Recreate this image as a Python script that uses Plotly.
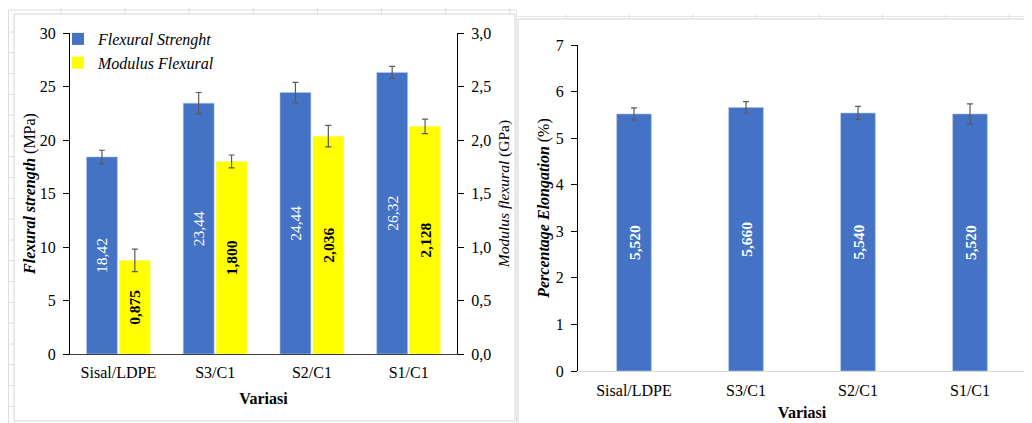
import plotly.graph_objects as go

categories = ["Sisal/LDPE", "S3/C1", "S2/C1", "S1/C1"]
flex_strength = [18.42, 23.44, 24.44, 26.32]          # MPa
flex_strength_err = [0.62, 1.0, 0.95, 0.56]
flex_modulus = [0.875, 1.800, 2.036, 2.128]            # GPa
flex_modulus_err = [0.105, 0.06, 0.10, 0.068]
elongation = [5.520, 5.660, 5.540, 5.520]              # %
elongation_err = [0.13, 0.125, 0.14, 0.215]

def fmt(v, d):
    return f"{v:.{d}f}".replace(".", ",")

FONT = "Liberation Serif"
BLUE = "#4472C4"
YELLOW = "#FFFF00"
GRIDC = "#dcdcdc"
# page body has an 8px margin: figure occupies window pixels 8..1032 x 8..423
OFF = 8
W, H = 1032 - OFF, 423 - OFF

def px_x(p):
    return (p - OFF) / W

def px_y(p):
    return 1 - (p - OFF) / H

err_style = dict(type="data", color="#5a5a5a", thickness=1.2, width=3)

fig = go.Figure()

fig.add_trace(go.Bar(
    x=categories, y=flex_strength, name="Flexural Strenght",
    marker=dict(color=BLUE, line=dict(color="#b4c7e7", width=0.6)),
    error_y=dict(array=flex_strength_err, **err_style),
    text=[fmt(v, 2) for v in flex_strength], textposition="inside",
    textangle=-90, insidetextanchor="middle", constraintext="none",
    textfont=dict(family=FONT, size=15.5, color="white"),
    offsetgroup="1", xaxis="x", yaxis="y", showlegend=False, hoverinfo="skip",
))
fig.add_trace(go.Bar(
    x=categories, y=flex_modulus, name="Modulus Flexural",
    marker=dict(color=YELLOW, line=dict(color="#f2f2a0", width=0.6)),
    error_y=dict(array=flex_modulus_err, **err_style),
    text=["<b>" + fmt(v, 3) + "</b>" for v in flex_modulus], textposition="inside",
    textangle=-90, insidetextanchor="middle", constraintext="none",
    textfont=dict(family=FONT, size=15.5, color="black"),
    offsetgroup="2", xaxis="x", yaxis="y2", showlegend=False, hoverinfo="skip",
))
# legend entries (small square markers as in the reference)
for nm, col in [("Flexural Strenght", BLUE), ("Modulus Flexural", YELLOW)]:
    fig.add_trace(go.Scatter(
        x=[None], y=[None], mode="markers", name=nm,
        marker=dict(symbol="square", size=8, color=col),
        xaxis="x", yaxis="y", showlegend=True,
    ))

fig.add_trace(go.Bar(
    x=categories, y=elongation, name="Percentage Elongation",
    marker=dict(color=BLUE, line=dict(color="#b4c7e7", width=0.6)),
    width=0.31,
    error_y=dict(array=elongation_err, **err_style),
    text=["<b>" + fmt(v, 3) + "</b>" for v in elongation], textposition="inside",
    textangle=-90, insidetextanchor="middle", constraintext="none",
    textfont=dict(family=FONT, size=15.5, color="white"),
    xaxis="x2", yaxis="y3", showlegend=False, hoverinfo="skip",
))

tickfont = dict(family=FONT, size=16, color="black")
titlefont = dict(family=FONT, size=16, color="black")

# decorative background: panel frames and faint spreadsheet cell lines
def line(x0, y0, x1, y1, color=GRIDC):
    return dict(type="line", xref="paper", yref="paper",
                x0=px_x(x0), y0=px_y(y0), x1=px_x(x1), y1=px_y(y1),
                line=dict(color=color, width=1), layer="below")

shapes = [
    dict(type="rect", xref="paper", yref="paper",
         x0=px_x(14), x1=px_x(515), y0=px_y(421), y1=px_y(14),
         line=dict(color="#d4d4d4", width=1), fillcolor="rgba(0,0,0,0)", layer="below"),
    dict(type="rect", xref="paper", yref="paper",
         x0=px_x(518), x1=px_x(1040), y0=px_y(430), y1=px_y(19),
         line=dict(color="#d4d4d4", width=1), fillcolor="rgba(0,0,0,0)", layer="below"),
    line(8.5, 10, 8.5, 423),
    line(8.5, 10, 515, 10),
    line(518, 16.5, 1032, 16.5, "#e6e6e6"),
    line(516.5, 10, 516.5, 423, "#e6e6e6"),
]
for k in range(8):
    xx = 61 + 64.1 * k
    shapes.append(line(xx, 8, xx, 14))
for k in range(8):
    xx = 566 + 63.3 * k
    shapes.append(line(xx, 14, xx, 19, "#e0e0e0"))
for k in range(19):
    yy = 32 + 20.8 * k
    shapes.append(line(8.5, yy, 14, yy))

fig.update_layout(
    width=W, height=H,
    margin=dict(l=0, r=0, t=0, b=0),
    paper_bgcolor="white", plot_bgcolor="white",
    separators=", ",
    barmode="group", bargap=0.32, bargroupgap=0.06,
    font=dict(family=FONT, color="black"),
    showlegend=True,
    legend=dict(
        x=px_x(58), y=px_y(22), xanchor="left", yanchor="top",
        bgcolor="rgba(0,0,0,0)", font=dict(family=FONT, size=16, color="black", style="italic"),
        itemsizing="constant", tracegroupgap=0,
    ),
    xaxis=dict(
        domain=[px_x(70), px_x(457)], anchor="y",
        showline=True, linecolor="#404040", linewidth=1, ticks="",
        tickfont=tickfont, showgrid=False, automargin=False, ticklabelstandoff=4,
        title=dict(text="<b>Variasi</b>", font=titlefont, standoff=12),
    ),
    yaxis=dict(
        domain=[px_y(354), px_y(33)], anchor="x",
        range=[0, 30], dtick=5, ticks="outside", ticklen=6, tickcolor="black",
        showline=True, linecolor="black", linewidth=1, showgrid=False, zeroline=False,
        tickfont=tickfont, automargin=False, ticklabelstandoff=4,
        title=dict(text="<b><i>Flexural strength</i></b> (MPa)", font=titlefont, standoff=0),
    ),
    yaxis2=dict(
        overlaying="y", side="right", anchor="x",
        range=[0, 3], dtick=0.5, tickformat=".1f", ticks="outside", ticklen=6, tickcolor="black",
        showline=True, linecolor="black", linewidth=1, showgrid=False, zeroline=False,
        tickfont=tickfont, automargin=False, ticklabelstandoff=4,
        title=dict(text="<i>Modulus flexural</i> (GPa)", font=dict(family=FONT, size=15.5, color="black"), standoff=7),
    ),
    xaxis2=dict(
        domain=[px_x(578), px_x(1026)], anchor="y3",
        showline=True, linecolor="#d9d9d9", linewidth=1, ticks="",
        tickfont=tickfont, showgrid=False, automargin=False, ticklabelstandoff=5,
        title=dict(text="<b>Variasi</b>", font=titlefont, standoff=8),
    ),
    yaxis3=dict(
        domain=[px_y(371), px_y(45)], anchor="x2",
        range=[0, 7], dtick=1, ticks="outside", ticklen=6, tickcolor="black",
        showline=True, linecolor="black", linewidth=1, showgrid=False, zeroline=False,
        tickfont=tickfont, automargin=False, ticklabelstandoff=4,
        title=dict(text="<b><i>Percentage Elongation</i></b> (%)", font=titlefont, standoff=2),
    ),
    shapes=shapes,
)

fig.write_html("out.html")
